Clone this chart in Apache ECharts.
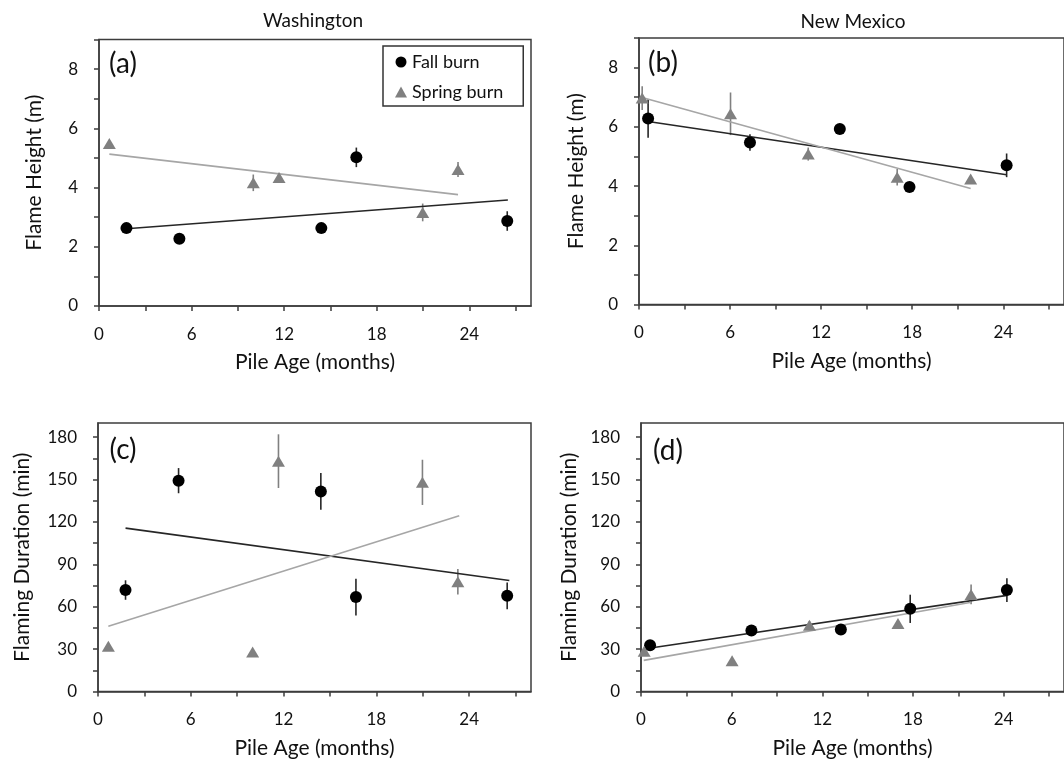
<!DOCTYPE html>
<html>
<head>
<meta charset="utf-8">
<script src="https://cdn.jsdelivr.net/npm/echarts@6/dist/echarts.min.js"></script>
<style>
html,body{margin:0;padding:0;background:#fff;}
#chart{width:1064px;height:763px;}
</style>
</head>
<body>
<div id="chart"></div>
<script>
// ---------- data ----------
// Washington pile ages (months)
const waFallAge   = [1.78, 5.21, 14.41, 16.68, 26.46];
const waSpringAge = [0.67, 10.0, 11.67, 20.98, 23.27];
// New Mexico pile ages (months)
const nmFallAge   = [0.60, 7.31, 13.23, 17.82, 24.22];
const nmSpringAge = [0.21, 6.03, 11.15, 17.01, 21.85];

// Flame height (m)
const waFallHeight     = [2.63, 2.27, 2.63, 5.02, 2.87];
const waFallHeightErr  = [0.17, 0.10, 0.10, 0.33, 0.33];
const waSpringHeight   = [5.49, 4.16, 4.34, 3.16, 4.61];
const waSpringHeightErr= [0.10, 0.28, 0.15, 0.30, 0.25];
const nmFallHeight     = [6.28, 5.47, 5.93, 3.97, 4.70];
const nmFallHeightErr  = [0.65, 0.28, 0.12, 0.10, 0.40];
const nmSpringHeight   = [6.97, 6.44, 5.08, 4.30, 4.24];
const nmSpringHeightErr= [0.40, 0.72, 0.22, 0.28, 0.10];

// Flaming duration (min)
const waFallDur      = [71.8, 149.2, 141.6, 66.8, 67.7];
const waFallDurErr   = [6.9, 8.9, 13.0, 13.0, 9.5];
const waSpringDur    = [32.0, 28.0, 163.0, 148.0, 77.7];
const waSpringDurErr = [2.0, 2.0, 19.0, 16.0, 9.0];
const nmFallDur      = [32.7, 43.1, 43.8, 58.5, 71.8];
const nmFallDurErr   = [2.0, 2.0, 2.0, 10.0, 8.4];
const nmSpringDur    = [28.4, 21.8, 46.9, 48.1, 68.7];
const nmSpringDurErr = [2.0, 2.0, 3.0, 2.0, 7.0];

// Trend line end points [x, y]
const waFallHeightTrend   = [[1.78, 2.61], [26.5, 3.58]];
const waSpringHeightTrend = [[0.67, 5.13], [23.27, 3.76]];
const nmFallHeightTrend   = [[0.60, 6.18], [24.22, 4.38]];
const nmSpringHeightTrend = [[0.21, 6.99], [21.85, 3.92]];
const waFallDurTrend      = [[1.78, 115.6], [26.6, 78.6]];
const waSpringDurTrend    = [[0.67, 46.2], [23.36, 124.3]];
const nmFallDurTrend      = [[0.18, 30.1], [24.23, 68.0]];
const nmSpringDurTrend    = [[0.18, 22.0], [21.87, 63.2]];

// Axis ticks / labels
const xTicks = [0, 3, 6, 9, 12, 15, 18, 21, 24, 27];
const xLabels = [0, 6, 12, 18, 24];
const hTicks = [0, 1, 2, 3, 4, 5, 6, 7, 8, 9];
const hLabels = [0, 2, 4, 6, 8];
const dTicks = [0, 15, 30, 45, 60, 75, 90, 105, 120, 135, 150, 165, 180];
const dLabels = [0, 30, 60, 90, 120, 150, 180];

const regionTitles = ['Washington', 'New Mexico'];
const panelLetters = ['(a)', '(b)', '(c)', '(d)'];
const xTitle = 'Pile Age (months)';
const hTitle = 'Flame Height (m)';
const dTitle = 'Flaming Duration (min)';
const seriesNames = ['Fall burn', 'Spring burn'];

// ---------- styling ----------
const FONT = 'Lato';
const AX = '#3c3c3c';
const FALL = '#000000';
const SPRING = '#808080';
const FALL_LINE = '#262626';
const SPRING_LINE = '#a6a6a6';

const grids = [
  {left: 99,  top: 39.5, width: 432, height: 266.5},
  {left: 639, top: 38,   width: 435, height: 266.5},
  {left: 98,  top: 423,  width: 433, height: 268.5},
  {left: 641, top: 423,  width: 435, height: 268.5}
];
grids.forEach(g => { g.show = true; g.borderColor = AX; g.borderWidth = 1.5; g.containLabel = false; });

function xAxis(i) {
  return {
    gridIndex: i, type: 'value', min: 0, max: 28,
    name: xTitle, nameLocation: 'middle', nameGap: 46,
    nameTextStyle: {fontFamily: FONT, fontSize: 21, color: '#111'},
    axisLine: {show: true, lineStyle: {color: AX, width: 1.5}},
    axisTick: {show: true, length: 5, lineStyle: {color: AX, width: 1.5}, customValues: xTicks},
    axisLabel: {fontFamily: FONT, fontSize: 17, color: '#111', margin: 20, customValues: xLabels},
    splitLine: {show: false}
  };
}
function yAxis(i, isH, gap) {
  return {
    gridIndex: i, type: 'value', min: 0, max: isH ? 9 : 190,
    name: isH ? hTitle : dTitle, nameLocation: 'middle', nameGap: gap,
    nameTextStyle: {fontFamily: FONT, fontSize: 21, color: '#111'},
    axisLine: {show: true, lineStyle: {color: AX, width: 1.5}},
    axisTick: {show: true, length: 5, lineStyle: {color: AX, width: 1.5}, customValues: isH ? hTicks : dTicks},
    axisLabel: {fontFamily: FONT, fontSize: 17, color: '#111', margin: 21, customValues: isH ? hLabels : dLabels},
    splitLine: {show: false}
  };
}

function zip(xs, ys, es) { return xs.map((x, k) => es ? [x, ys[k], es[k]] : [x, ys[k]]); }

function errSeries(i, xs, ys, es, color) {
  return {
    type: 'custom', xAxisIndex: i, yAxisIndex: i, z: 3, silent: true,
    data: zip(xs, ys, es),
    encode: {x: 0, y: 1},
    renderItem: function (params, api) {
      const x = api.value(0), y = api.value(1), e = api.value(2);
      const p1 = api.coord([x, y - e]);
      const p2 = api.coord([x, y + e]);
      return {type: 'line', shape: {x1: p1[0], y1: p1[1], x2: p2[0], y2: p2[1]},
              style: {stroke: color, lineWidth: 1.6}};
    }
  };
}
function scatter(i, name, xs, ys, fall) {
  return {
    type: 'scatter', name: name, xAxisIndex: i, yAxisIndex: i, z: 5,
    symbol: fall ? 'circle' : 'triangle',
    symbolSize: fall ? 12 : [13, 11],
    itemStyle: {color: fall ? FALL : SPRING, opacity: 1},
    data: zip(xs, ys)
  };
}
function trend(i, pts, fall) {
  return {
    type: 'line', xAxisIndex: i, yAxisIndex: i, z: 4, silent: true,
    symbol: 'none', data: pts,
    lineStyle: {color: fall ? FALL_LINE : SPRING_LINE, width: 1.6}
  };
}

const series = [];
function panel(i, fAge, fY, fE, sAge, sY, sE, fT, sT) {
  series.push(trend(i, fT, true), trend(i, sT, false));
  series.push(errSeries(i, fAge, fY, fE, FALL_LINE), errSeries(i, sAge, sY, sE, SPRING));
  series.push(scatter(i, seriesNames[0], fAge, fY, true), scatter(i, seriesNames[1], sAge, sY, false));
}
panel(0, waFallAge, waFallHeight, waFallHeightErr, waSpringAge, waSpringHeight, waSpringHeightErr, waFallHeightTrend, waSpringHeightTrend);
panel(1, nmFallAge, nmFallHeight, nmFallHeightErr, nmSpringAge, nmSpringHeight, nmSpringHeightErr, nmFallHeightTrend, nmSpringHeightTrend);
panel(2, waFallAge, waFallDur, waFallDurErr, waSpringAge, waSpringDur, waSpringDurErr, waFallDurTrend, waSpringDurTrend);
panel(3, nmFallAge, nmFallDur, nmFallDurErr, nmSpringAge, nmSpringDur, nmSpringDurErr, nmFallDurTrend, nmSpringDurTrend);

function txt(t, x, y, size) {
  return {type: 'text', x: x, y: y, z: 10,
          style: {text: t, fontFamily: FONT, fontSize: size, fill: '#111', align: 'center', verticalAlign: 'middle'}};
}

const option = {
  backgroundColor: '#ffffff',
  animation: false,
  grid: grids,
  xAxis: [xAxis(0), xAxis(1), xAxis(2), xAxis(3)],
  yAxis: [yAxis(0, true, 54), yAxis(1, true, 52), yAxis(2, false, 65), yAxis(3, false, 61)],
  legend: {
    show: true, orient: 'vertical', left: 383, top: 46,
    selectedMode: false,
    backgroundColor: '#fff', borderColor: '#333', borderWidth: 1.5,
    padding: [6, 20, 4, 12], itemGap: 10, itemWidth: 12, itemHeight: 11,
    textStyle: {fontFamily: FONT, fontSize: 18, color: '#111', lineHeight: 20},
    data: [{name: seriesNames[0], icon: 'circle'}, {name: seriesNames[1], icon: 'triangle'}]
  },
  graphic: [
    txt(regionTitles[0], 313, 21, 19),
    txt(regionTitles[1], 853, 22, 19),
    txt(panelLetters[0], 123, 64, 28),
    txt(panelLetters[1], 663, 63, 28),
    txt(panelLetters[2], 123, 450, 28),
    txt(panelLetters[3], 668, 451, 28)
  ],
  series: series
};

const chart = echarts.init(document.getElementById('chart'), null, {renderer: 'canvas'});
chart.setOption(option);
</script>
</body>
</html>
